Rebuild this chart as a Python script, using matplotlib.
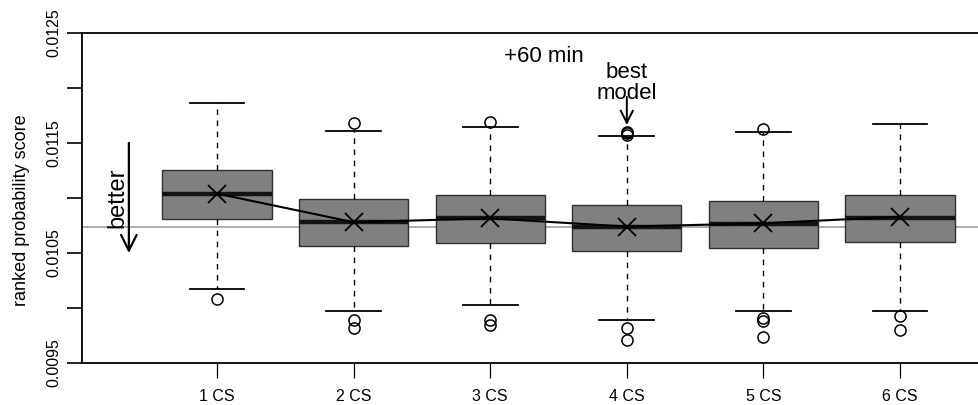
import matplotlib
matplotlib.use('Agg')
import matplotlib.pyplot as plt

plt.rcParams['font.family'] = ['Liberation Sans', 'DejaVu Sans']

# ---------------- data ----------------
labels = ['1 CS', '2 CS', '3 CS', '4 CS', '5 CS', '6 CS']
q1 = [0.010809, 0.010566, 0.010594, 0.010518, 0.010548, 0.010603]
med = [0.011039, 0.010779, 0.010815, 0.010739, 0.010761, 0.010821]
q3 = [0.011255, 0.010994, 0.011030, 0.010939, 0.010973, 0.011030]
whislo = [0.010176, 0.009973, 0.010027, 0.009891, 0.009976, 0.009976]
whishi = [0.011867, 0.011609, 0.011648, 0.011564, 0.011603, 0.011673]
means = [0.011040, 0.010780, 0.010815, 0.010740, 0.010770, 0.010830]
fliers = [
    [0.010079],
    [0.011679, 0.009891, 0.009821],
    [0.011694, 0.009891, 0.009845],
    [0.011603, 0.011590, 0.011575, 0.009821, 0.009709],
    [0.011624, 0.009912, 0.009885, 0.009734],
    [0.009930, 0.009800],
]
best_mean = 0.010739

# ---------------- figure ----------------
fig = plt.figure(figsize=(9.79, 4.05), dpi=100)
ax = fig.add_axes([82 / 979, 1 - 363 / 405, 1 - 82 / 979, 330 / 405])

stats = []
for i in range(len(labels)):
    stats.append({'label': labels[i], 'q1': q1[i], 'med': med[i], 'q3': q3[i],
                  'whislo': whislo[i], 'whishi': whishi[i], 'fliers': fliers[i]})

pos = list(range(1, len(labels) + 1))

# linha de referencia = media do melhor modelo
ax.axhline(best_mean, color='#a0a0a0', lw=1.2, zorder=0)

ax.bxp(stats, positions=pos, widths=0.8, patch_artist=True,
       boxprops=dict(facecolor='#808080', edgecolor='#303030', lw=1.0),
       medianprops=dict(color='#141414', lw=3.2),
       whiskerprops=dict(color='black', lw=1.0, linestyle=(0, (4, 4))),
       capprops=dict(color='black', lw=1.3),
       flierprops=dict(marker='o', markerfacecolor='none', markeredgecolor='black',
                       markersize=8, markeredgewidth=1.1),
       capwidths=0.4)

# medias
ax.plot(pos, means, color='black', lw=1.5, zorder=5)
ax.plot(pos, means, 'x', color='black', markersize=13, markeredgewidth=1.3, zorder=6)

# eixos
ax.set_xlim(0.012, 6.578)
ax.set_ylim(0.0095, 0.0125)
ax.set_xticks(pos)
ax.set_xticklabels(labels, fontsize=11.5)
yt = [0.0095, 0.0100, 0.0105, 0.0110, 0.0115, 0.0120, 0.0125]
ax.set_yticks(yt)
ax.set_yticklabels(['0.0095', '', '0.0105', '', '0.0115', '', '0.0125'], fontsize=11.5)
for lab in ax.get_yticklabels():
    lab.set_rotation(90)
    lab.set_va('center')
ax.tick_params(axis='both', length=11, width=1.2, color='black')
ax.tick_params(axis='x', pad=8, width=0.9)
ax.tick_params(axis='y', pad=4)
ax.spines['right'].set_visible(False)
for s in ['left', 'top', 'bottom']:
    ax.spines[s].set_linewidth(1.3)

fig.text(22 / 979, 1 - 210 / 405, 'ranked probability score', fontsize=13,
         rotation=90, ha='center', va='center')

# anotacoes
ax.text(3.39, 0.01229, '+60 min', fontsize=16, ha='center', va='center')
ax.text(4.0, 0.01205, 'best\nmodel', fontsize=16, ha='center', va='center',
        linespacing=1.0)
ax.annotate('', xy=(4.0, 0.011664), xytext=(4.0, 0.011918),
            arrowprops=dict(arrowstyle='->', lw=1.4, color='black', mutation_scale=22,
                            shrinkA=0, shrinkB=0))
ax.annotate('', xy=(0.355, 0.0105), xytext=(0.355, 0.0115),
            arrowprops=dict(arrowstyle='->', lw=1.6, color='black', mutation_scale=28,
                            shrinkA=0, shrinkB=0))
ax.text(0.274, 0.01100, 'better', fontsize=17, rotation=90, ha='center', va='center')

fig.savefig('out.png', dpi=100)
